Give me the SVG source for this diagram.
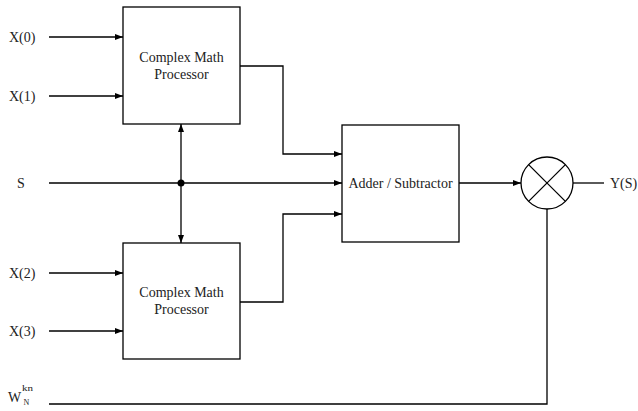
<svg xmlns="http://www.w3.org/2000/svg" width="638" height="411" viewBox="0 0 638 411">
<style>
.box{fill:#fff;stroke:#000;stroke-width:1.3}
.ln{fill:none;stroke:#000;stroke-width:1.3}
.t{font-family:"Liberation Serif","Times New Roman","DejaVu Serif",serif;font-size:14px;fill:#222}
.c{text-anchor:middle}
</style>
<defs>
<marker id="ah" markerWidth="8" markerHeight="6" refX="8" refY="3" orient="auto" markerUnits="userSpaceOnUse">
<path d="M0,0 L8,3 L0,6 Z" fill="#000"/>
</marker>
<marker id="ahs" markerWidth="8" markerHeight="6" refX="8" refY="3" orient="auto-start-reverse" markerUnits="userSpaceOnUse">
<path d="M0,0 L8,3 L0,6 Z" fill="#000"/>
</marker>
</defs>
<rect width="638" height="411" fill="#fff"/>
<g id="connectors">
<line class="ln" x1="49" y1="37" x2="123" y2="37" marker-end="url(#ah)"/>
<line class="ln" x1="49" y1="96" x2="123" y2="96" marker-end="url(#ah)"/>
<line class="ln" x1="49" y1="273" x2="123" y2="273" marker-end="url(#ah)"/>
<line class="ln" x1="49" y1="331" x2="123" y2="331" marker-end="url(#ah)"/>
<line class="ln" x1="181" y1="124" x2="181" y2="243" marker-start="url(#ahs)" marker-end="url(#ahs)"/>
<line class="ln" x1="49" y1="183" x2="342" y2="183" marker-end="url(#ah)"/>
<circle cx="181" cy="183" r="3.5" fill="#000"/>
<polyline class="ln" points="240,66 283,66 283,154 342,154" marker-end="url(#ah)"/>
<polyline class="ln" points="240,302 283,302 283,214 342,214" marker-end="url(#ah)"/>
<line class="ln" x1="459" y1="183" x2="521" y2="183" marker-end="url(#ah)"/>
<line class="ln" x1="573" y1="183" x2="604" y2="183"/>
<polyline class="ln" points="49,404 547,404 547,209"/>
</g>
<g id="cmp1">
<rect class="box" x="123" y="7" width="117" height="117"/>
<text class="t c" x="181.5" y="62">Complex Math</text>
<text class="t c" x="181.5" y="79">Processor</text>
</g>
<g id="cmp2">
<rect class="box" x="123" y="243" width="117" height="116"/>
<text class="t c" x="181.5" y="297">Complex Math</text>
<text class="t c" x="181.5" y="314">Processor</text>
</g>
<g id="adder">
<rect class="box" x="342" y="125" width="117" height="117"/>
<text class="t c" x="400.5" y="188">Adder / Subtractor</text>
</g>
<g id="mult">
<circle class="box" cx="547" cy="183" r="26"/>
<line class="ln" x1="528.6" y1="164.6" x2="565.4" y2="201.4"/>
<line class="ln" x1="565.4" y1="164.6" x2="528.6" y2="201.4"/>
</g>
<g id="labels">
<text class="t" x="9" y="42">X(0)</text>
<text class="t" x="9" y="101">X(1)</text>
<text class="t" x="17" y="188">S</text>
<text class="t" x="9" y="278">X(2)</text>
<text class="t" x="9" y="336">X(3)</text>
<text class="t" x="610" y="188">Y(S)</text>
<text class="t" x="8" y="402">W</text>
<text class="t" x="22" y="391" style="font-size:9px" textLength="11" lengthAdjust="spacingAndGlyphs">kn</text>
<text class="t" x="23.5" y="405" style="font-size:8px">N</text>
</g>
</svg>
